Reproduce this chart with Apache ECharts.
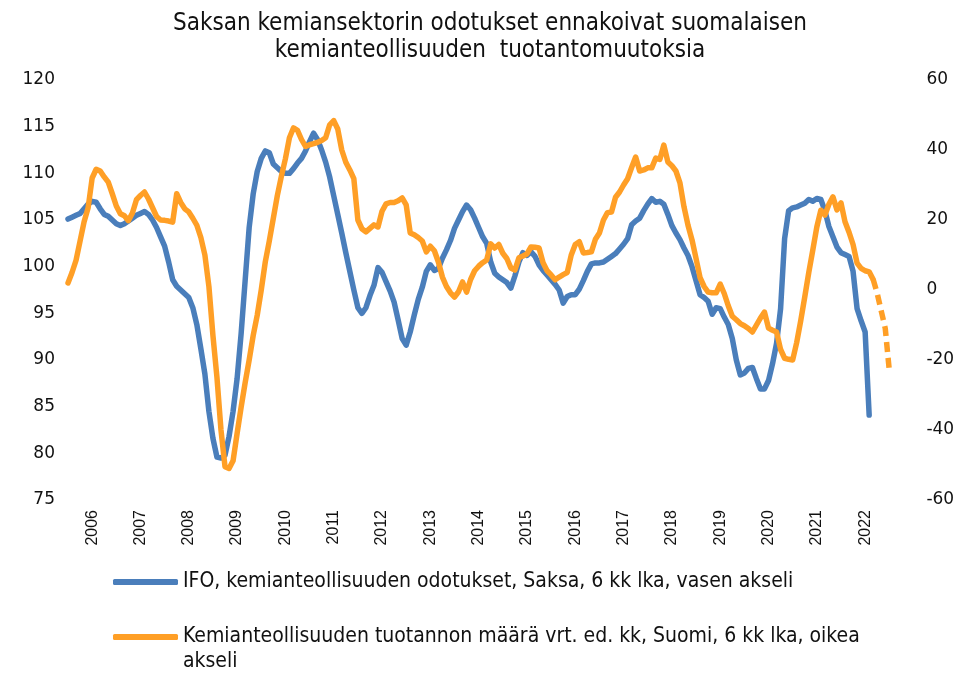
<!DOCTYPE html>
<html>
<head>
<meta charset="utf-8">
<script src="https://cdn.jsdelivr.net/npm/echarts@6/dist/echarts.min.js"></script>
<style>
html,body{margin:0;padding:0;background:#fff;}
#chart{width:980px;height:673px;}
</style>
</head>
<body>
<div id="chart"></div>
<script>
// ---- data ----
const titleText = 'Saksan kemiansektorin odotukset ennakoivat suomalaisen\nkemianteollisuuden  tuotantomuutoksia';
const seriesNames = [
  'IFO, kemianteollisuuden odotukset, Saksa, 6 kk lka, vasen akseli',
  'Kemianteollisuuden tuotannon määrä vrt. ed. kk, Suomi, 6 kk lka, oikea akseli'
];
// monthly categories, 2005-07 ... 2022-11
const startYear = 2005, startMonth = 7, monthCount = 209;
const months = [];
for (let k = 0; k < monthCount; k++) {
  const t = startMonth - 1 + k;
  const y = startYear + Math.floor(t / 12);
  const m = (t % 12) + 1;
  months.push(y + '-' + (m < 10 ? '0' : '') + m);
}
// IFO chemical expectations (left axis), 2005-07 .. 2022-02
const ifo = [
 105.1,105.3,105.5,105.7,106.2,106.7,107.0,106.9,106.2,105.6,105.4,105.0,
 104.6,104.4,104.6,104.9,105.2,105.5,105.7,105.9,105.6,105.0,104.2,103.2,
 102.2,100.5,98.6,97.9,97.5,97.1,96.7,95.6,93.8,91.2,88.5,84.5,
 81.6,79.6,79.5,79.8,81.8,84.5,88.0,92.8,98.5,104.2,107.8,110.2,
 111.6,112.4,112.2,111.0,110.6,110.2,110.0,110.0,110.5,111.1,111.6,112.4,
 113.4,114.3,113.6,112.5,111.2,109.6,107.6,105.6,103.6,101.5,99.5,97.5,
 95.6,95.0,95.6,96.9,98.0,99.9,99.4,98.4,97.4,96.2,94.3,92.3,
 91.6,93.0,94.8,96.5,97.8,99.5,100.2,99.6,99.8,100.9,101.8,102.8,
 104.1,105.0,105.9,106.6,106.1,105.2,104.2,103.2,102.5,100.5,99.3,98.9,
 98.6,98.3,97.7,99.0,100.5,101.5,101.2,101.6,101.1,100.2,99.6,99.1,
 98.6,98.1,97.5,96.1,96.8,97.0,97.0,97.6,98.5,99.5,100.3,100.4,
 100.4,100.5,100.8,101.1,101.4,101.9,102.4,103.0,104.5,104.9,105.2,106.0,
 106.7,107.3,106.9,107.0,106.7,105.6,104.4,103.6,102.9,102.0,101.2,100.0,
 98.5,97.0,96.7,96.3,94.9,95.6,95.5,94.6,93.8,92.3,90.0,88.4,
 88.6,89.1,89.2,88.0,86.9,86.9,87.8,89.6,91.8,95.5,103.0,106.0,
 106.3,106.4,106.6,106.8,107.2,107.0,107.3,107.2,106.0,104.3,103.2,102.1,
 101.5,101.3,101.1,99.5,95.5,94.2,93.0,84.1
];
// Finnish chemical production (right axis), 2005-07 .. 2022-03
const prod = [
 2.0,5.0,8.5,14.0,19.5,23.5,32.0,34.5,34.0,32.3,30.8,27.5,
 24.0,21.8,21.2,19.8,22.0,25.8,27.0,28.0,26.0,23.5,21.0,20.0,
 19.9,19.7,19.4,27.5,25.0,23.2,22.3,20.5,18.5,15.0,10.0,1.0,
 -13.0,-25.0,-40.0,-50.5,-51.0,-48.8,-41.0,-33.5,-26.5,-20.0,-13.0,-7.2,
 0.0,8.0,14.0,20.5,27.0,32.5,37.5,43.5,46.3,45.6,43.0,41.0,
 41.5,41.8,42.2,42.7,43.5,47.2,48.4,46.0,40.0,36.5,34.3,31.8,
 20.0,17.5,16.6,17.6,18.6,18.0,22.5,24.6,25.0,25.0,25.5,26.3,
 24.3,16.3,15.8,15.0,14.0,10.9,12.5,11.2,8.0,3.7,1.0,-0.8,
 -2.0,-0.5,2.3,-0.6,3.0,5.5,6.8,7.8,8.6,13.2,12.0,13.0,
 10.5,9.0,6.3,5.7,9.2,9.7,10.3,12.3,12.2,12.0,7.8,5.5,
 4.3,2.9,3.7,4.4,5.0,10.0,13.0,13.8,10.6,10.7,10.9,14.5,
 16.3,20.0,22.1,22.3,26.5,28.0,30.0,31.8,35.0,38.0,34.0,34.3,
 34.9,34.9,37.7,37.3,41.4,36.6,35.5,34.0,30.6,23.8,18.5,14.3,
 9.0,3.5,1.0,-0.6,-0.8,-0.8,1.7,-1.0,-4.5,-7.5,-8.5,-9.6,
 -10.2,-11.0,-12.0,-10.0,-8.0,-6.3,-10.9,-11.5,-12.0,-17.0,-19.5,-19.8,
 -20.0,-15.0,-8.8,-2.0,5.0,11.4,18.0,22.8,21.4,24.5,26.6,22.9,
 24.9,19.5,16.5,13.0,7.7,6.2,5.5,5.2,3.0
];
// dashed continuation (estimate), 2022-03 .. 2022-07
const prodForecast = [3.0,-1.0,-6.0,-11.0,-23.0];
const leftTicks = {min: 75, max: 120, interval: 5};
const rightTicks = {min: -60, max: 60, interval: 20};

// ---- chart ----
const blue = '#4a7ebb', orange = '#ff9f26';
const forecastData = new Array(prod.length - 1).fill(null).concat(prodForecast);
const legendText = {fontFamily: 'DejaVu Sans Condensed', fontSize: 21, color: '#111', lineHeight: 25};
const legendBase = {
  orient: 'vertical', left: 113, padding: 0, itemWidth: 65, itemHeight: 6,
  icon: 'roundRect', height: 120, textStyle: legendText
};
const chart = echarts.init(document.getElementById('chart'), null, {renderer: 'canvas'});
chart.setOption({
  animation: false,
  backgroundColor: '#ffffff',
  title: {
    text: titleText,
    left: 'center',
    top: 5,
    textStyle: {fontFamily: 'DejaVu Sans Condensed', fontSize: 24, fontWeight: 'normal', color: '#111', lineHeight: 27}
  },
  legend: [
    Object.assign({}, legendBase, {top: 569.5, data: [seriesNames[0]]}),
    Object.assign({}, legendBase, {
      top: 599.5, data: [seriesNames[1]],
      formatter: function (name) { return '\n' + name.replace('oikea akseli', 'oikea\nakseli'); }
    })
  ],
  grid: {left: 68, right: 74.6, top: 80, bottom: 173, containLabel: false},
  xAxis: {
    type: 'category',
    data: months,
    boundaryGap: false,
    axisLine: {show: false},
    axisTick: {show: false},
    splitLine: {show: false},
    axisLabel: {
      rotate: 90,
      margin: 10,
      interval: function (idx, val) { return val.slice(5) === '01'; },
      formatter: function (val) { return val.slice(0, 4); },
      fontFamily: 'Liberation Sans',
      fontSize: 16,
      color: '#111'
    }
  },
  yAxis: [
    {
      type: 'value', position: 'left',
      min: leftTicks.min, max: leftTicks.max, interval: leftTicks.interval,
      axisLine: {show: false}, axisTick: {show: false}, splitLine: {show: false},
      axisLabel: {fontFamily: 'DejaVu Sans', fontSize: 17, color: '#111', margin: 13}
    },
    {
      type: 'value', position: 'right',
      min: rightTicks.min, max: rightTicks.max, interval: rightTicks.interval,
      axisLine: {show: false}, axisTick: {show: false}, splitLine: {show: false},
      axisLabel: {fontFamily: 'DejaVu Sans', fontSize: 17, color: '#111', margin: 21}
    }
  ],
  series: [
    {
      name: seriesNames[0], type: 'line', yAxisIndex: 0, data: ifo,
      symbol: 'none', color: blue,
      lineStyle: {width: 5.5, color: blue, cap: 'round', join: 'round'}
    },
    {
      name: seriesNames[1], type: 'line', yAxisIndex: 1, data: prod,
      symbol: 'none', color: orange,
      lineStyle: {width: 5.5, color: orange, cap: 'round', join: 'round'}
    },
    {
      name: 'ennuste', type: 'line', yAxisIndex: 1, data: forecastData,
      symbol: 'none', color: orange,
      lineStyle: {width: 5.5, color: orange, type: [10, 6], cap: 'butt'}
    }
  ]
});
</script>
</body>
</html>
